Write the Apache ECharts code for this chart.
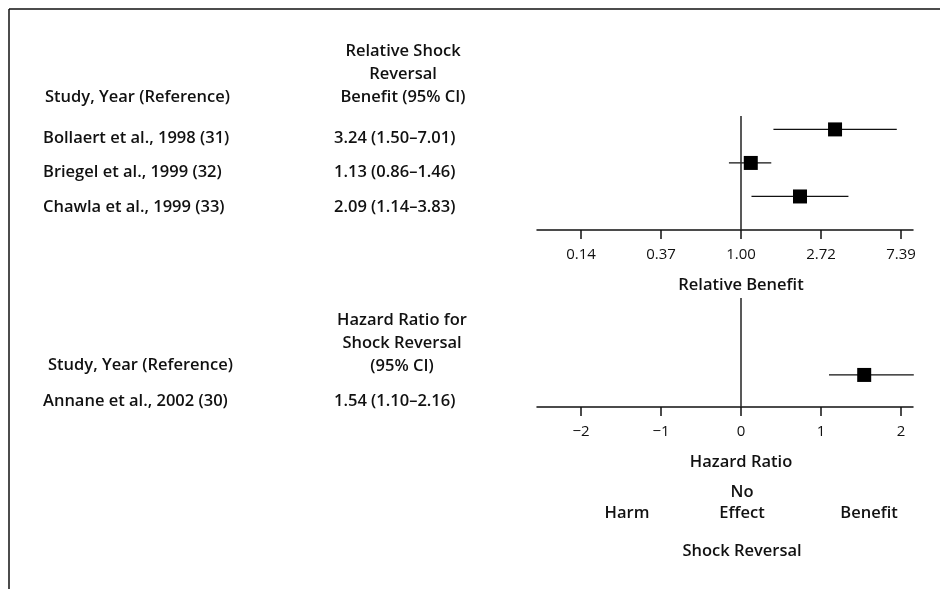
<!DOCTYPE html>
<html><head><meta charset="utf-8">
<script src="https://cdn.jsdelivr.net/npm/echarts@6/dist/echarts.min.js"></script>
<style>html,body{margin:0;padding:0;background:#fff}#c{width:940px;height:589px}</style>
</head><body><div id="c"></div>
<script>
// ---- data ----
const topStudies = ["Bollaert et al., 1998 (31)", "Briegel et al., 1999 (32)", "Chawla et al., 1999 (33)"];
const topEst = [3.24, 1.13, 2.09];
const topLo = [1.50, 0.86, 1.14];
const topHi = [7.01, 1.46, 3.83];
const topTicks = [Math.exp(-2), Math.exp(-1), 1, Math.exp(1), Math.exp(2)];

const botStudies = ["Annane et al., 2002 (30)"];
const botEst = [1.54];
const botLo = [1.10];
const botHi = [2.16];
const botTicks = [-2, -1, 0, 1, 2];

const topHeader = ["Relative Shock", "Reversal", "Benefit (95% CI)"];
const botHeader = ["Hazard Ratio for", "Shock Reversal", "(95% CI)"];
const studyHeader = "Study, Year (Reference)";
const topAxisName = "Relative Benefit";
const botAxisName = "Hazard Ratio";
const effectLabels = ["Harm", "No\nEffect", "Benefit"];
const footer = "Shock Reversal";

// ---- chart ----
const FONT = "'Open Sans', sans-serif";
const TXT = {fontFamily: FONT, fontSize: 16.5, fontWeight: 600, fill: '#111'};
const fmtCI = (e, l, h) => e.toFixed(2) + " (" + l.toFixed(2) + "\u2013" + h.toFixed(2) + ")";

const graphics = [];
function txt(x, y, text, align, extra) {
  graphics.push({type: 'text', x: x, y: y, silent: true,
    style: Object.assign({text: text, textAlign: align || 'left', textVerticalAlign: 'middle'}, TXT, extra || {})});
}
// frame lines
graphics.push({type: 'line', shape: {x1: 9, y1: 9, x2: 940, y2: 9}, style: {stroke: '#111', lineWidth: 1.5}});
graphics.push({type: 'line', shape: {x1: 9, y1: 9, x2: 9, y2: 589}, style: {stroke: '#111', lineWidth: 1.5}});

// top table
topHeader.forEach((t, i) => txt(403, 51 + i * 23, t, 'center'));
txt(45, 97, studyHeader);
topStudies.forEach((s, i) => {
  const y = 138 + i * 34.5;
  txt(43, y, s);
  txt(334, y, fmtCI(topEst[i], topLo[i], topHi[i]));
});
txt(741, 285, topAxisName, 'center');

// bottom table
botHeader.forEach((t, i) => txt(402, 320 + i * 23, t, 'center'));
txt(48, 365, studyHeader);
botStudies.forEach((s, i) => {
  txt(43, 401, s);
  txt(334, 401, fmtCI(botEst[i], botLo[i], botHi[i]));
});
txt(741, 462, botAxisName, 'center');
txt(742, 503, effectLabels[1], 'center', {lineHeight: 21});
txt(627, 513, effectLabels[0], 'center');
txt(869, 513, effectLabels[2], 'center');
txt(742, 551, footer, 'center');

const axisLineStyle = {color: '#111', width: 1.5};
function errSeries(xIdx, lo, hi) {
  return {
    type: 'custom', xAxisIndex: xIdx, yAxisIndex: xIdx, silent: true,
    data: lo.map((l, i) => [l, hi[i], i]),
    encode: {x: [0, 1], y: 2},
    renderItem: (params, api) => {
      const a = api.coord([api.value(0), api.value(2)]);
      const b = api.coord([api.value(1), api.value(2)]);
      return {type: 'line', shape: {x1: a[0], y1: a[1], x2: b[0], y2: b[1]}, style: {stroke: '#111', lineWidth: 1.3}};
    }
  };
}
function ptSeries(xIdx, est) {
  return {
    type: 'scatter', xAxisIndex: xIdx, yAxisIndex: xIdx, silent: true,
    symbol: 'rect', symbolSize: 14, itemStyle: {color: '#000', opacity: 1},
    data: est.map((e, i) => [e, i]),
    markLine: {
      silent: true, symbol: 'none', label: {show: false},
      lineStyle: {color: '#222', width: 1.5, type: 'solid'},
      data: [{xAxis: xIdx === 0 ? 1 : 0}]
    }
  };
}

const option = {
  animation: false,
  backgroundColor: '#fff',
  grid: [
    {left: 537, width: 376, top: 116, height: 114},
    {left: 537, width: 376, top: 298, height: 109}
  ],
  xAxis: [
    {type: 'log', logBase: Math.E, gridIndex: 0, min: Math.exp(-2.55), max: Math.exp(2.15),
     axisLine: {onZero: false, lineStyle: axisLineStyle},
     axisTick: {customValues: topTicks, length: 9, lineStyle: axisLineStyle},
     axisLabel: {customValues: topTicks, formatter: v => Number(v).toFixed(2), margin: 17,
       fontFamily: FONT, fontSize: 15, color: '#111'},
     splitLine: {show: false}},
    {type: 'value', gridIndex: 1, min: -2.55, max: 2.15,
     axisLine: {onZero: false, lineStyle: axisLineStyle},
     axisTick: {customValues: botTicks, length: 9, lineStyle: axisLineStyle},
     axisLabel: {customValues: botTicks, formatter: v => (v < 0 ? '\u2212' + Math.abs(v) : String(v)), margin: 17,
       fontFamily: FONT, fontSize: 15, color: '#111'},
     splitLine: {show: false}}
  ],
  yAxis: [
    {type: 'value', gridIndex: 0, inverse: true, min: -0.4, max: 3, show: false},
    {type: 'value', gridIndex: 1, inverse: true, min: -2.4, max: 1, show: false}
  ],
  series: [
    errSeries(0, topLo, topHi), ptSeries(0, topEst),
    errSeries(1, botLo, botHi), ptSeries(1, botEst)
  ],
  graphic: graphics
};
const chart = echarts.init(document.getElementById('c'), null, {renderer: 'canvas'});
chart.setOption(option);
</script></body></html>
